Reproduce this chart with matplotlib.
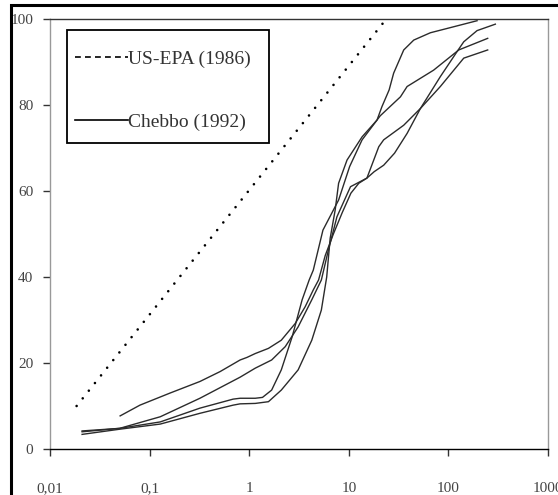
import matplotlib
matplotlib.use("Agg")
import matplotlib.pyplot as plt
from matplotlib.lines import Line2D
from matplotlib.patches import Rectangle

# US-EPA (1986) reference line
epa_x = [0.0185, 0.2, 23.8]
epa_y = [10, 40, 100]

# Chebbo (1992) curves
c1_x = [0.0506, 0.08, 0.16, 0.32, 0.51, 0.81, 0.95, 1.15, 1.56, 2.1, 2.9, 3.65, 4.4, 4.97,
        5.8, 7.0, 8.6, 10.5, 12.6, 15.2, 18, 22.4, 28.8, 38.5, 52.4, 83, 122, 142.6, 194, 296]
c1_y = [7.7, 10.2, 13.0, 15.7, 18.0, 20.7, 21.3, 22.2, 23.4, 25.3, 29.2, 33.1, 37, 39.3,
        45, 50, 55, 59.5, 61.8, 63, 64.5, 66, 68.8, 73.4, 79.2, 86.6, 92.4, 94.7, 97.3, 98.8]

c2_x = [0.021, 0.05, 0.128, 0.32, 0.81, 1.15, 1.68, 2.3, 3.1, 4.25, 5.3, 6.2, 7.6, 10.4,
        15.2, 20, 22.4, 35.6, 52.4, 83, 142.6, 248]
c2_y = [4.0, 4.8, 7.5, 11.8, 16.7, 18.8, 20.7, 23.8, 28.4, 34.7, 39.3, 46, 54, 61,
        63, 70.3, 71.9, 75.3, 79.2, 84.3, 90.9, 92.8]

c3_x = [0.021, 0.05, 0.128, 0.32, 0.69, 0.81, 1.15, 1.36, 1.68, 2.1, 2.7, 3.4, 4.0, 4.4,
        5.5, 7.9, 10.2, 13.6, 20.7, 33, 38.5, 71, 127, 248]
c3_y = [4.2, 4.8, 6.3, 9.5, 11.6, 11.8, 11.8, 12.0, 13.7, 18.4, 26.1, 34.7, 39.3, 41.6,
        50.9, 57.9, 65.7, 71.9, 77.5, 81.9, 84.3, 88.1, 92.8, 95.5]

c4_x = [0.021, 0.05, 0.128, 0.32, 0.69, 0.81, 1.15, 1.56, 2.1, 3.1, 4.25, 5.3, 6.0, 6.5,
        7.3, 7.9, 9.6, 13.6, 19.2, 21.5, 25.4, 28.2, 35.6, 44.9, 65.9, 97, 194]
c4_y = [3.4, 4.6, 5.8, 8.3, 10.2, 10.5, 10.6, 11.0, 13.7, 18.4, 25.3, 32.3, 40, 49,
        55.6, 61.8, 67.2, 72.6, 76.5, 79.6, 83.5, 87.4, 92.8, 95.1, 96.8, 97.8, 99.6]

x_ticks = [0.01, 0.1, 1, 10, 100, 1000]
x_labels = ["0,01", "0,1", "1", "10", "100", "1000"]
y_ticks = [0, 20, 40, 60, 80, 100]

plt.rcParams['font.family'] = ['Liberation Serif', 'DejaVu Serif']

fig = plt.figure(figsize=(5.58, 4.95), dpi=100)
ax = fig.add_axes([50 / 558, 1 - 449 / 495, 498 / 558, 430 / 495])

ax.plot(epa_x, epa_y, color='black', lw=1.9, linestyle=(0, (0.01, 3.7)),
        dash_capstyle='round', solid_capstyle='round')
for xs, ys in [(c1_x, c1_y), (c2_x, c2_y), (c3_x, c3_y), (c4_x, c4_y)]:
    ax.plot(xs, ys, color='#2b2b2b', lw=1.0)

ax.set_xscale('log')
ax.set_xlim(0.01, 1000)
ax.set_ylim(0, 100)
ax.set_xticks(x_ticks)
ax.set_xticklabels(x_labels)
ax.minorticks_off()
ax.set_yticks(y_ticks)

ax.tick_params(axis='x', direction='out', length=5, width=1, color='#333333',
               labelsize=11, labelcolor='#444444', pad=19)
ax.tick_params(axis='y', direction='out', length=5, width=1, color='#333333',
               labelsize=11, labelcolor='#444444', pad=7)

ax.spines['left'].set_color('#999999')
ax.spines['right'].set_color('#999999')
ax.spines['top'].set_color('#333333')
ax.spines['bottom'].set_color('black')
for s in ax.spines.values():
    s.set_linewidth(1.0)

# legend: entries without frame, frame drawn separately
handles = [Line2D([], [], color='black', lw=1.2, linestyle=(0, (3.5, 2.5))),
           Line2D([], [], color='black', lw=1.2)]
leg = ax.legend(handles, ["US-EPA (1986)", "Chebbo (1992)"],
                loc='upper left', bbox_to_anchor=(75 / 558, 1 - 50 / 495),
                bbox_transform=fig.transFigure, fontsize=14, frameon=False,
                handlelength=2.7, handletextpad=0.0, labelspacing=2.35,
                borderpad=0, borderaxespad=0)
for t in leg.get_texts():
    t.set_color('#333333')
fig.patches.append(Rectangle((66.7 / 558, 1 - 143 / 495), 202.3 / 558, 113 / 495,
                             transform=fig.transFigure, fill=False,
                             edgecolor='black', lw=1.3))

# outer frame (cropped on right and bottom)
fig.patches.append(Rectangle((10.5 / 558, -0.1), 1.2, 1.1 - 5.5 / 495,
                             transform=fig.transFigure, fill=False,
                             edgecolor='black', lw=2.2, clip_on=False))

fig.savefig("out.png", dpi=100)
